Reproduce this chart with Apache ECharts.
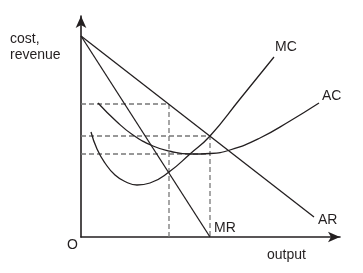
<!DOCTYPE html>
<html>
<head>
<meta charset="utf-8">
<script src="https://cdn.jsdelivr.net/npm/echarts@6/dist/echarts.min.js"></script>
<style>html,body{margin:0;padding:0;background:#fff}#c{width:363px;height:273px}</style>
</head>
<body>
<div id="c"></div>
<script>
// Values (x = output, y = cost/revenue, arbitrary units)
var arPoints = [[0, 201], [233, 20]];
var mrPoints = [[0, 201], [129, 0]];
var mcPoints = [[10, 105], [16, 88], [24, 74], [34, 62], [45, 55], [56, 52], [69, 54], [88, 65], [109, 83], [129, 101], [159, 138], [193, 180]];
var acPoints = [[17, 134], [35, 116], [52, 102], [72, 91], [90, 85.5], [109, 83], [129, 83.5], [149, 87], [179, 99], [209, 116], [238, 134]];
var qProfit = 88;      // output where MC = MR
var pProfit = 133;     // price at that output (on AR)
var qEq = 129;         // output where MC = AR
var pEq = 101;         // price there
var acEq = 83;         // AC there
var curveLabels = ['MC', 'AC', 'AR', 'MR'];
var axisLabels = ['cost,', 'revenue', 'output', 'O'];

var chart = echarts.init(document.getElementById('c'), null, {renderer: 'canvas'});
var ink = '#231f20';
var dash = '#777777';
function dashed(pts) {
  return {type: 'line', data: pts, symbol: 'none', silent: true, z: 1,
    lineStyle: {color: dash, width: 1.3, type: [5, 3]}};
}
function solid(pts, smooth) {
  return {type: 'line', data: pts, symbol: 'none', smooth: smooth, silent: true, z: 3,
    lineStyle: {color: ink, width: 1.3}};
}
var txt = {fill: ink, font: '14px "Liberation Sans", Arial, sans-serif'};
function label(s, x, y) {
  return {type: 'text', left: x, top: y, style: Object.assign({text: s}, txt)};
}
chart.setOption({
  animation: false,
  grid: {left: 81, right: 23, top: 16, bottom: 36},
  xAxis: {type: 'value', min: 0, max: 259, splitLine: {show: false}, axisTick: {show: false}, axisLabel: {show: false},
    axisLine: {lineStyle: {color: ink, width: 1.6}, symbol: ['none', 'arrow'], symbolSize: [8, 12]}},
  yAxis: {type: 'value', min: 0, max: 221, splitLine: {show: false}, axisTick: {show: false}, axisLabel: {show: false},
    axisLine: {lineStyle: {color: ink, width: 1.6}, symbol: ['none', 'arrow'], symbolSize: [8, 12]}},
  series: [
    dashed([[0, pProfit], [qProfit, pProfit], [qProfit, 0]]),
    dashed([[0, pEq], [qEq, pEq], [qEq, 0]]),
    dashed([[0, acEq], [qEq, acEq]]),
    solid(arPoints, false),
    solid(mrPoints, false),
    solid(mcPoints, 0.5),
    solid(acPoints, 0.5)
  ],
  graphic: [
    label(axisLabels[0], 10, 32),
    label(axisLabels[1], 10, 48),
    label(axisLabels[2], 267, 248),
    label(axisLabels[3], 67, 238),
    label(curveLabels[0], 275, 40),
    label(curveLabels[1], 322, 89),
    label(curveLabels[2], 318, 213),
    label(curveLabels[3], 214, 221)
  ]
});
</script>
</body>
</html>
